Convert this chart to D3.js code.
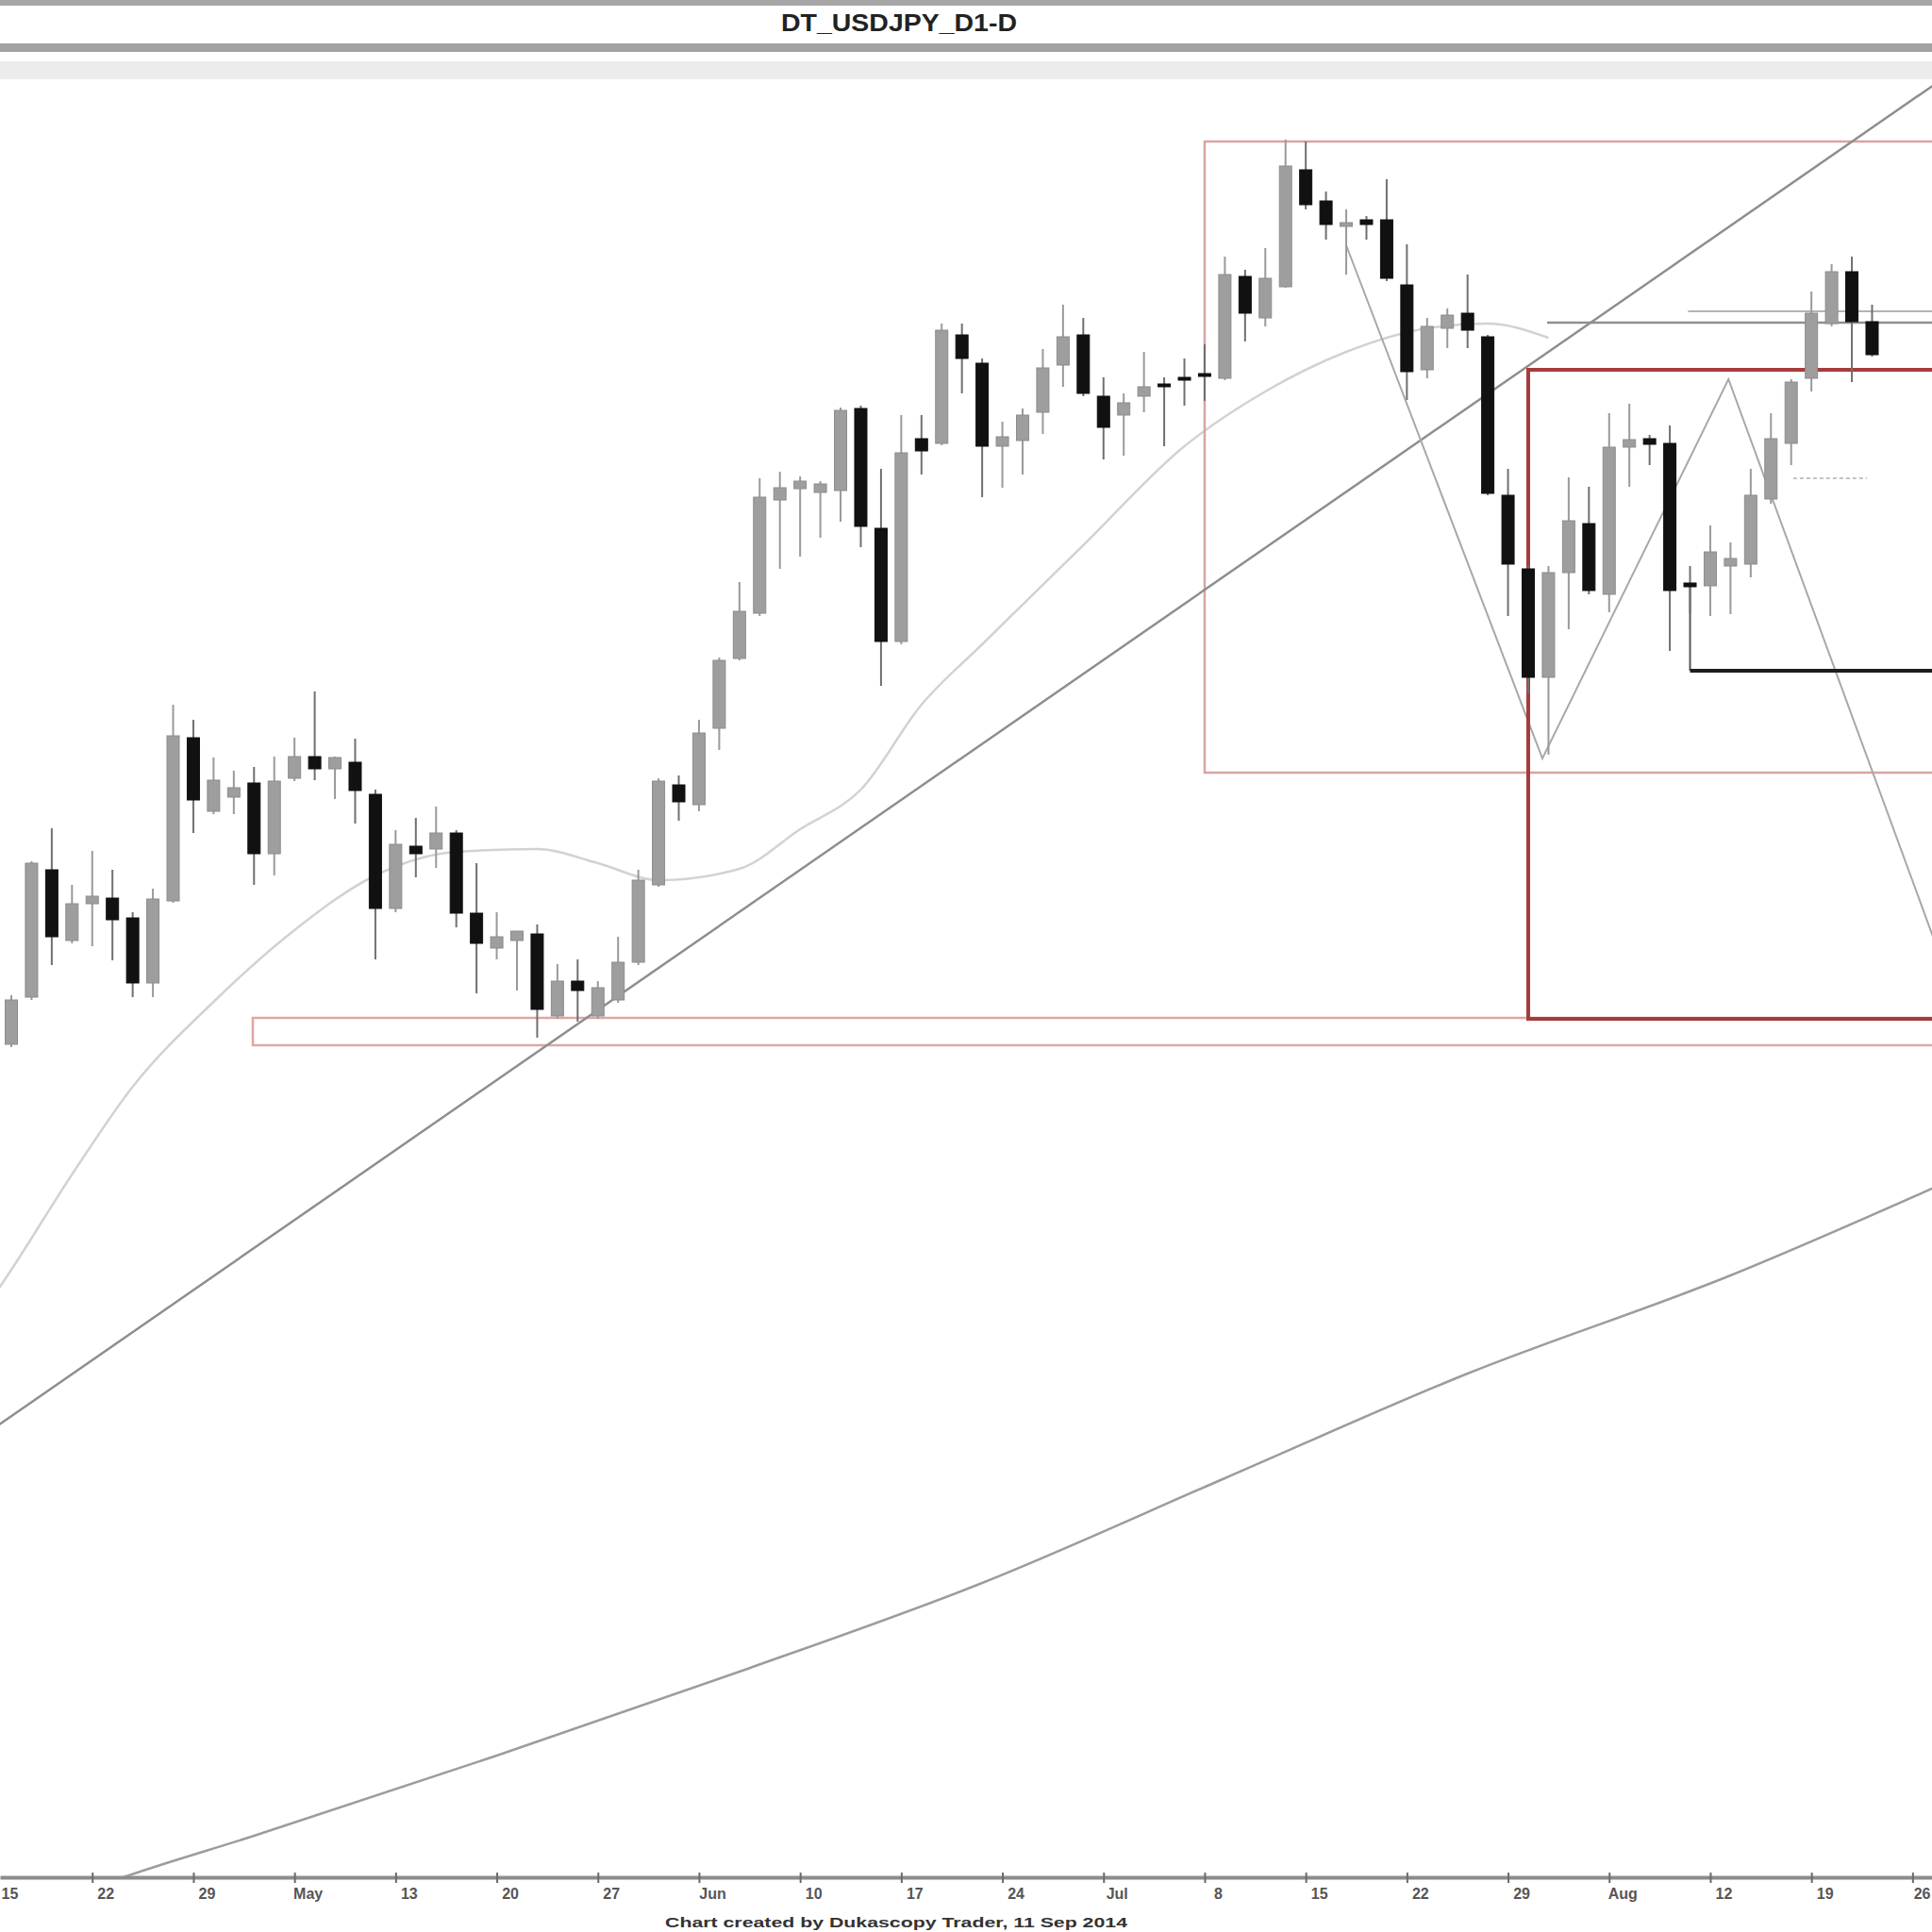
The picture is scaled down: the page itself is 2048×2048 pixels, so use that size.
<!DOCTYPE html>
<html><head><meta charset="utf-8">
<script src="https://cdn.jsdelivr.net/npm/d3@7"></script>
<style>html,body{margin:0;padding:0;background:#fff;} svg{display:block;}</style>
</head><body>
<svg id="c" width="2048" height="2048"></svg>
<script>
// ---------- DATA ----------
const chartTitle = "DT_USDJPY_D1-D";
const footerText = "Chart created by Dukascopy Trader, 11 Sep 2014";

const openP = [100.465,100.715,101.39,101.015,101.21,101.24,101.135,100.79,101.225,102.09,
101.70,101.775,101.85,101.475,101.875,101.99,101.925,101.96,101.79,101.185,
101.515,101.50,101.585,101.16,100.975,101.015,101.05,100.615,100.80,100.615,
100.70,100.90,101.31,101.84,101.735,102.14,102.51,102.75,103.35,103.41,
103.39,103.40,103.835,103.20,102.60,103.675,103.65,104.225,104.075,103.635,
103.665,103.815,104.065,104.225,103.90,103.80,103.90,103.965,104.00,104.02,
103.995,104.535,104.315,104.48,105.10,104.935,104.80,104.835,104.835,104.49,
104.04,104.26,104.34,104.215,103.375,102.985,102.41,102.965,103.225,102.85,
103.63,103.675,103.65,102.91,102.895,103.00,103.01,103.355,103.65,103.995,
104.285,104.56,104.295];
const highP = [100.725,101.435,101.61,101.31,101.49,101.39,101.165,101.29,102.265,102.185,
101.985,101.915,101.935,101.99,102.09,102.335,101.99,102.085,101.815,101.60,
101.665,101.725,101.60,101.425,101.165,101.065,101.10,100.89,100.915,100.80,
101.035,101.39,101.875,101.89,102.185,102.515,102.915,103.465,103.50,103.475,
103.45,103.84,103.85,103.515,103.80,103.80,104.285,104.285,104.10,103.765,
103.835,104.15,104.385,104.315,104.00,103.915,104.135,104.00,104.10,104.175,
104.64,104.57,104.685,105.26,105.25,104.985,104.89,104.855,105.05,104.705,
104.315,104.365,104.545,104.225,103.515,103.00,103.00,103.47,103.42,103.81,
103.86,103.695,103.745,103.00,103.215,103.125,103.515,103.81,103.99,104.455,
104.60,104.64,104.385];
const lowP = [100.45,100.70,100.885,101.00,100.985,100.91,100.715,100.715,101.215,101.585,
101.685,101.685,101.31,101.36,101.86,101.865,101.765,101.635,100.915,101.165,
101.35,101.40,101.085,100.735,100.915,100.75,100.50,100.60,100.585,100.60,
100.685,100.885,101.30,101.65,101.70,102.025,102.50,102.735,102.985,103.05,
103.15,103.235,103.10,102.365,102.585,103.485,103.64,103.915,103.365,103.415,
103.485,103.70,103.95,103.90,103.565,103.585,103.815,103.635,103.85,103.875,
103.985,104.19,104.27,104.475,104.89,104.73,104.545,104.73,104.51,103.88,
103.995,104.155,104.155,103.375,102.735,102.325,102.00,102.665,102.85,102.755,
103.42,103.535,102.55,102.75,102.735,102.745,102.94,103.33,103.535,103.925,
104.27,103.975,104.11];
const closeP = [100.70,101.425,101.035,101.21,101.25,101.125,100.79,101.235,102.10,101.76,
101.865,101.825,101.475,101.86,101.99,101.925,101.985,101.81,101.185,101.525,
101.475,101.585,101.16,101.00,101.035,101.065,100.65,100.80,100.75,100.765,
100.90,101.335,101.86,101.75,102.115,102.50,102.76,103.365,103.415,103.45,
103.435,103.825,103.21,102.60,103.60,103.61,104.25,104.10,103.635,103.685,
103.80,104.05,104.215,103.915,103.735,103.865,103.95,103.95,103.985,104.01,
104.545,104.34,104.525,105.12,104.915,104.81,104.82,104.81,104.525,104.03,
104.27,104.33,104.25,103.385,103.01,102.41,102.965,103.24,102.87,103.63,
103.67,103.645,102.87,102.89,103.075,103.04,103.375,103.675,103.975,104.34,
104.56,104.295,104.12];

const tickIndex  = [-1,4,9,14,19,24,29,34,39,44,49,54,59,64,69,74,79,84,89,94];
const tickLabels = ["15","22","29","May","13","20","27","Jun","10","17","24","Jul","8","15","22","29","Aug","12","19","26"];

// moving averages (index, price)
const maFastIdx = [-1,0,3,6,10,14,18,22,26,29,32,36,39,42,45,48,53,58,62,66,70,73,76];
const maFastVal = [99.11,99.27,99.775,100.24,100.69,101.07,101.36,101.485,101.50,101.425,101.335,101.395,101.605,101.815,102.265,102.585,103.11,103.635,103.925,104.135,104.26,104.285,104.21];
const maSlowIdx = [3,5,12,24,36,48,60,72,85,96];
const maSlowVal = [95.95,96.03,96.27,96.695,97.14,97.61,98.165,98.72,99.24,99.75];

// drawn studies (index, price)
const trendIdx = [-1,96];
const trendVal = [98.42,105.62];
const zigIdx = [66,75.7,84.9,95.2];
const zigVal = [104.70,101.98,103.99,100.98];
const box1 = {i0:59, i1:97, top:105.25, bottom:101.905};
const box2 = {i0:75, i1:97, top:104.04, bottom:100.60};
const zone = {i0:11.94, i1:97, top:100.605, bottom:100.46};
const levelBlack = {i0:83, i1:97, from:102.895, price:102.445};
const levelGray1 = {i0:75.93, i1:97, price:104.29};
const levelGray2 = {i0:82.9, i1:97, price:104.35};
const levelDash  = {i0:88.1, i1:91.75, price:103.465};

// ---------- CHART ----------
const W = 2048, H = 2048;
const axisY = 1990, plotTop = 88;
const svg = d3.select("#c");
const x = d3.scaleLinear().domain([-12/21.44, 2036/21.44]).range([0, W]);
const y = d3.scaleLinear().domain([106, 106 - 2048/200]).range([0, H]);

svg.append("rect").attr("width",W).attr("height",H).attr("fill","#fff");

// header
svg.append("rect").attr("x",0).attr("y",0).attr("width",W).attr("height",6).attr("fill","#a6a6a6");
svg.append("text").attr("x",953).attr("y",33).attr("text-anchor","middle")
  .attr("font-family","Liberation Sans, Arial, sans-serif").attr("font-weight","bold")
  .attr("font-size",25).attr("fill","#222").attr("textLength",250).attr("lengthAdjust","spacingAndGlyphs")
  .text(chartTitle);
svg.append("rect").attr("x",0).attr("y",46).attr("width",W).attr("height",9).attr("fill","#a2a2a2");
svg.append("rect").attr("x",0).attr("y",65).attr("width",W).attr("height",19).attr("fill","#ececec");

const defs = svg.append("defs");
defs.append("clipPath").attr("id","plot").append("rect")
  .attr("x",0).attr("y",plotTop).attr("width",W).attr("height",axisY - plotTop);
const g = svg.append("g").attr("clip-path","url(#plot)");

const lineGen = d3.line().x(d=>x(d[0])).y(d=>y(d[1]));
const curveGen = d3.line().x(d=>x(d[0])).y(d=>y(d[1])).curve(d3.curveMonotoneX);

// slow MA (lower curve)
g.append("path").datum(maSlowIdx.map((d,i)=>[d,maSlowVal[i]]))
  .attr("d",curveGen).attr("fill","none").attr("stroke","#9c9c9c").attr("stroke-width",2.5);
// fast MA (light curve)
g.append("path").datum(maFastIdx.map((d,i)=>[d,maFastVal[i]]))
  .attr("d",curveGen).attr("fill","none").attr("stroke","#d2d2d2").attr("stroke-width",2.5);

// boxes / zone
function rectOf(b, stroke, sw){
  g.append("rect").attr("x",x(b.i0)).attr("y",y(b.top))
    .attr("width",x(b.i1)-x(b.i0)).attr("height",y(b.bottom)-y(b.top))
    .attr("fill","none").attr("stroke",stroke).attr("stroke-width",sw);
}
rectOf(box1,"#d9a3a3",2.5);
rectOf(zone,"#dfa6a6",2.5);

// trend line
g.append("path").datum(trendIdx.map((d,i)=>[d,trendVal[i]]))
  .attr("d",lineGen).attr("fill","none").attr("stroke","#8e8e8e").attr("stroke-width",2.5);
// zigzag
g.append("path").datum(zigIdx.map((d,i)=>[d,zigVal[i]]))
  .attr("d",lineGen).attr("fill","none").attr("stroke","#a8a8a8").attr("stroke-width",2);

// horizontal levels
function hline(l, stroke, sw, dash){
  const p = g.append("line").attr("x1",x(l.i0)).attr("x2",x(l.i1))
    .attr("y1",y(l.price)).attr("y2",y(l.price)).attr("stroke",stroke).attr("stroke-width",sw);
  if(dash) p.attr("stroke-dasharray",dash);
}
hline(levelGray1,"#8f8f8f",2.5);
hline(levelGray2,"#b4b4b4",2);
hline(levelDash,"#c4c4c4",2,"4,3");

// thick red box
rectOf(box2,"#a53c3c",4);

// black L level
g.append("line").attr("x1",x(levelBlack.i0)).attr("x2",x(levelBlack.i0))
  .attr("y1",y(levelBlack.from)).attr("y2",y(levelBlack.price)).attr("stroke","#555").attr("stroke-width",2);
hline(levelBlack,"#1e1e1e",4);

// candles
const candles = openP.map((o,i)=>({i, o, h:highP[i], l:lowP[i], c:closeP[i]}));
const bw = 13;
const cg = g.append("g");
cg.selectAll(".wick").data(candles).join("line")
  .attr("x1",d=>x(d.i)).attr("x2",d=>x(d.i))
  .attr("y1",d=>y(d.h)).attr("y2",d=>y(d.l))
  .attr("stroke",d=>d.c>=d.o?"#9a9a9a":"#707070").attr("stroke-width",2);
cg.selectAll(".body").data(candles).join("rect")
  .attr("x",d=>x(d.i)-bw/2).attr("width",bw)
  .attr("y",d=>y(Math.max(d.o,d.c)))
  .attr("height",d=>Math.max(3, Math.abs(y(d.o)-y(d.c))))
  .attr("fill",d=>d.c>=d.o?"#9e9e9e":"#111")
  .attr("stroke",d=>d.c>=d.o?"#8c8c8c":"#111").attr("stroke-width",1);

// x axis
const axis = d3.axisBottom(x).tickValues(tickIndex)
  .tickFormat((d,i)=>tickLabels[i]).tickSizeInner(6).tickSizeOuter(0);
const ax = svg.append("g").attr("transform",`translate(0,${axisY})`).call(axis);
ax.select(".domain").attr("stroke","#8c8c8c").attr("stroke-width",4);
ax.selectAll(".tick line").attr("y1",-5).attr("y2",6).attr("stroke","#6a6a6a").attr("stroke-width",2);
ax.selectAll(".tick text").attr("dx",14).attr("y",12)
  .attr("font-family","Liberation Sans, Arial, sans-serif").attr("font-size",16)
  .attr("font-weight","bold").attr("fill","#555");
// keep the edge labels inside the picture
const tickTexts = ax.selectAll(".tick text").nodes();
const firstT = d3.select(tickTexts[0]);
firstT.attr("text-anchor","start").attr("dx",0).attr("x", 1 - x(tickIndex[0]));
const lastT = d3.select(tickTexts[tickTexts.length-1]);
lastT.attr("text-anchor","end").attr("dx",0).attr("x", W - 2 - x(tickIndex[tickIndex.length-1]));

// footer
svg.append("text").attr("x",950).attr("y",2043).attr("text-anchor","middle")
  .attr("font-family","Liberation Sans, Arial, sans-serif").attr("font-weight","bold")
  .attr("font-size",15).attr("fill","#333").attr("textLength",490).attr("lengthAdjust","spacingAndGlyphs")
  .text(footerText);
</script>
</body></html>
